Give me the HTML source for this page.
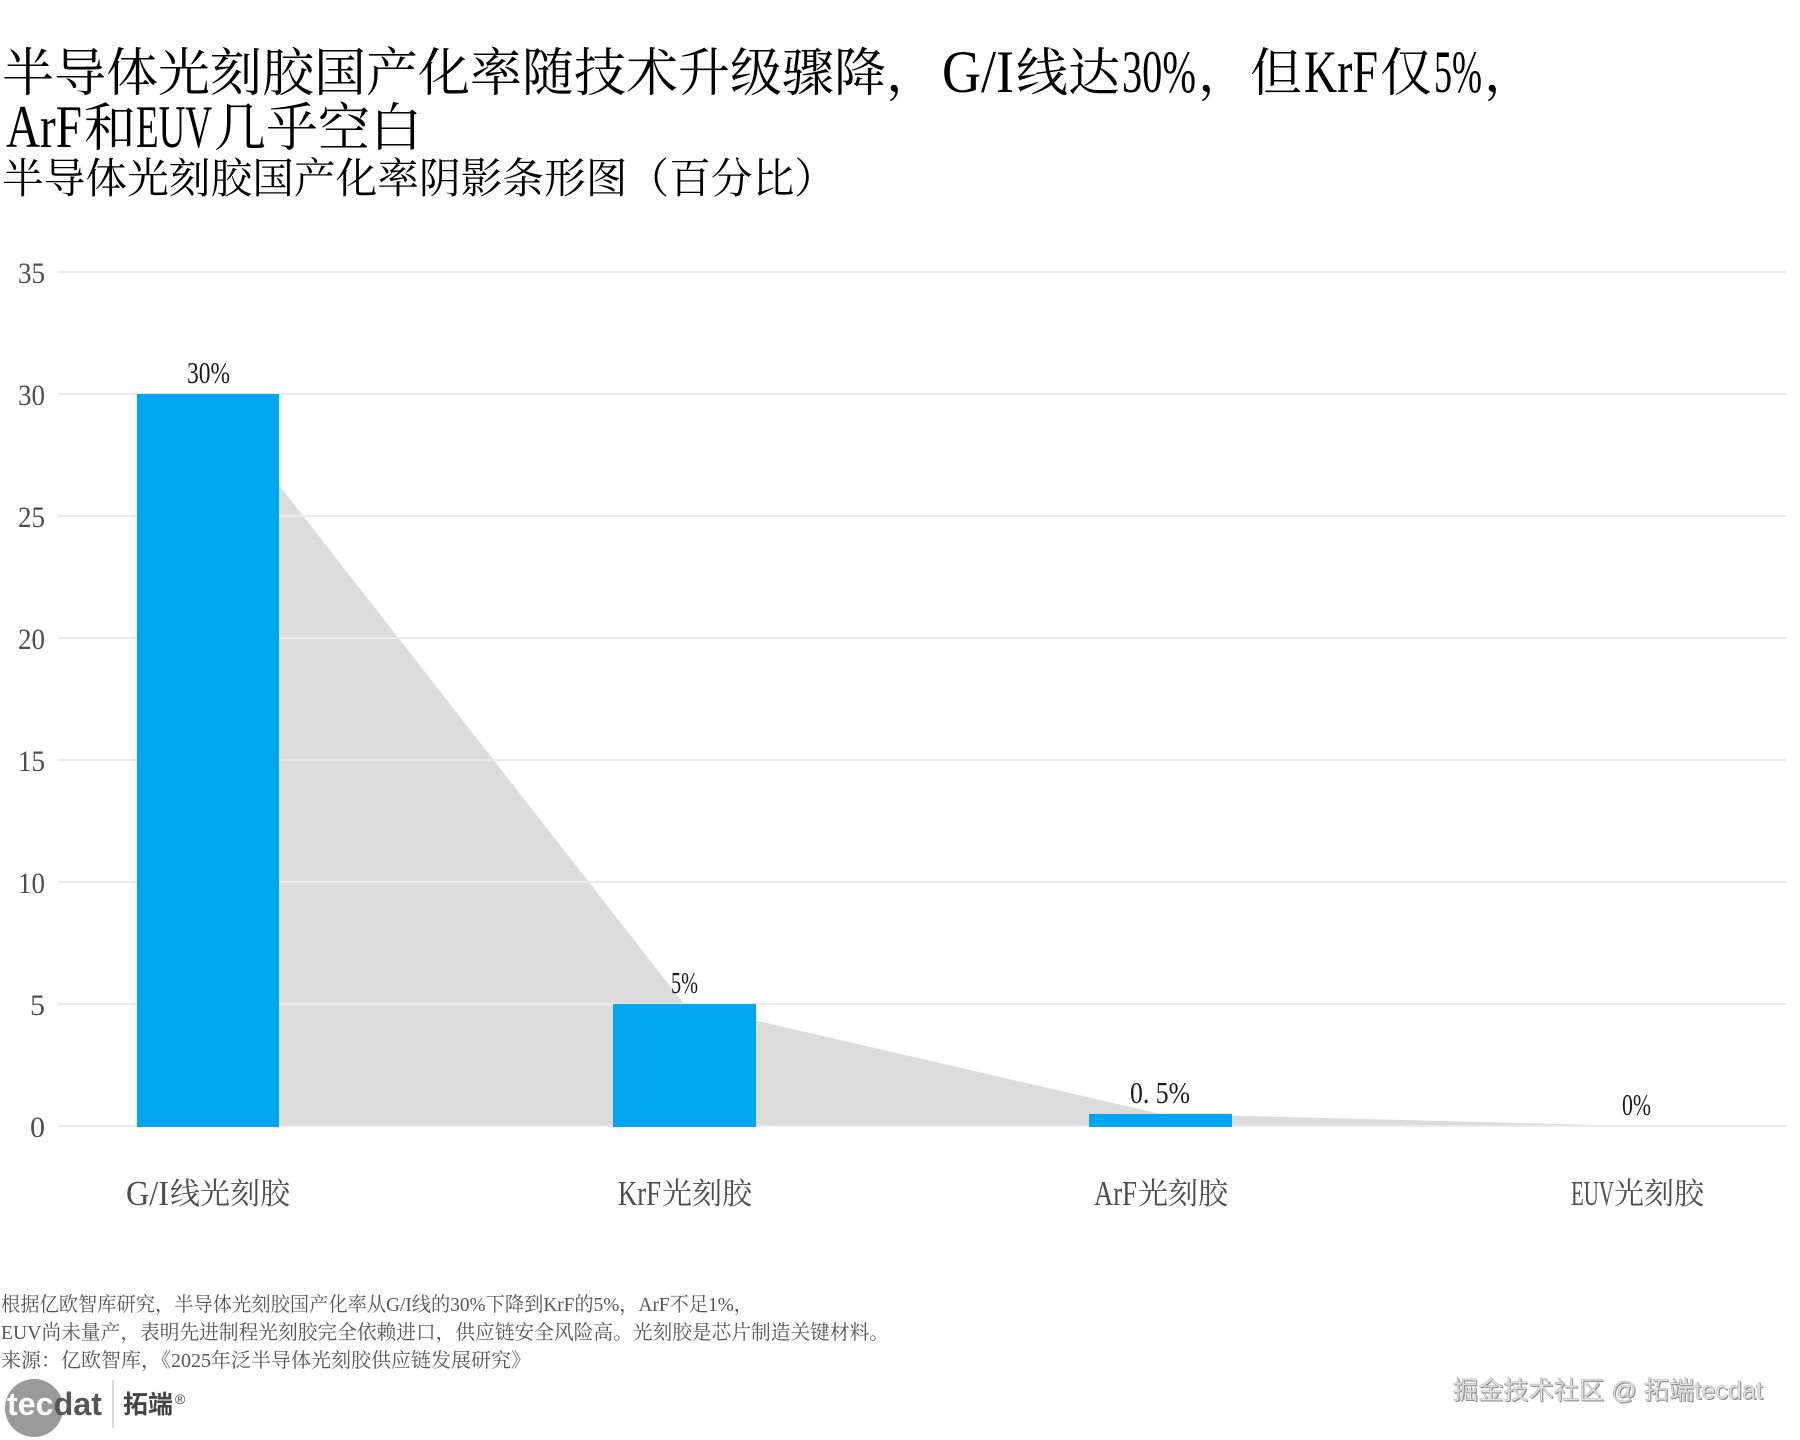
<!DOCTYPE html>
<html>
<head>
<meta charset="utf-8">
<style>
  html, body { margin: 0; padding: 0; background: #ffffff; }
  svg { display: block; }
  .sf { font-family: "Liberation Serif", "Noto Serif CJK SC", "Noto Serif SC", "Source Han Serif SC", "AR PL UMing CN", serif; }
</style>
</head>
<body>
<svg width="1800" height="1440" viewBox="0 0 1800 1440" xmlns="http://www.w3.org/2000/svg">
  <rect x="0" y="0" width="1800" height="1440" fill="#ffffff"/>

  <!-- Titles -->
  <g class="sf" fill="#000000">
    <!-- line 1 -->
    <text x="2" y="91" font-size="52" textLength="936" lengthAdjust="spacingAndGlyphs">半导体光刻胶国产化率随技术升级骤降，</text>
    <text x="942" y="92" font-size="60" textLength="72" lengthAdjust="spacingAndGlyphs">G/I</text>
    <text x="1016" y="91" font-size="52" textLength="104" lengthAdjust="spacingAndGlyphs">线达</text>
    <text x="1122" y="92" font-size="60" textLength="74" lengthAdjust="spacingAndGlyphs">30%</text>
    <text x="1198" y="91" font-size="52" textLength="104" lengthAdjust="spacingAndGlyphs">，但</text>
    <text x="1304" y="92" font-size="60" textLength="74" lengthAdjust="spacingAndGlyphs">KrF</text>
    <text x="1380" y="91" font-size="52">仅</text>
    <text x="1434" y="92" font-size="60" textLength="48" lengthAdjust="spacingAndGlyphs">5%</text>
    <text x="1484" y="91" font-size="52">，</text>
    <!-- line 2 -->
    <text x="6" y="147" font-size="60" textLength="76" lengthAdjust="spacingAndGlyphs">ArF</text>
    <text x="84" y="146" font-size="52">和</text>
    <text x="136" y="147" font-size="60" textLength="76" lengthAdjust="spacingAndGlyphs">EUV</text>
    <text x="214" y="146" font-size="52" textLength="208" lengthAdjust="spacingAndGlyphs">几乎空白</text>
    <!-- subtitle -->
    <text x="2" y="193" font-size="42" textLength="834" lengthAdjust="spacingAndGlyphs">半导体光刻胶国产化率阴影条形图（百分比）</text>
  </g>

  <!-- Shadow polygon -->
  <polygon points="208,394 684,1004 1160,1113.8 1635,1126 208,1126" fill="#dcdcdc"/>

  <!-- Grid lines -->
  <g stroke="#ebebeb" stroke-width="2">
    <line x1="58" y1="272" x2="1786" y2="272"/>
    <line x1="58" y1="394" x2="1786" y2="394"/>
    <line x1="58" y1="516" x2="1786" y2="516"/>
    <line x1="58" y1="638" x2="1786" y2="638"/>
    <line x1="58" y1="760" x2="1786" y2="760"/>
    <line x1="58" y1="882" x2="1786" y2="882"/>
    <line x1="58" y1="1004" x2="1786" y2="1004"/>
    <line x1="58" y1="1126" x2="1786" y2="1126"/>
  </g>

  <!-- Y tick labels -->
  <g class="sf" font-size="30" fill="#4d4d4d" text-anchor="end">
    <text x="45" y="283" textLength="27" lengthAdjust="spacingAndGlyphs">35</text>
    <text x="45" y="405" textLength="27" lengthAdjust="spacingAndGlyphs">30</text>
    <text x="45" y="527" textLength="27" lengthAdjust="spacingAndGlyphs">25</text>
    <text x="45" y="649" textLength="27" lengthAdjust="spacingAndGlyphs">20</text>
    <text x="45" y="771" textLength="27" lengthAdjust="spacingAndGlyphs">15</text>
    <text x="45" y="893" textLength="27" lengthAdjust="spacingAndGlyphs">10</text>
    <text x="45" y="1015">5</text>
    <text x="45" y="1137">0</text>
  </g>

  <!-- Bars -->
  <g fill="#00a6f0">
    <rect x="137" y="394" width="142" height="733"/>
    <rect x="613" y="1004" width="143" height="123"/>
    <rect x="1089" y="1114" width="143" height="13"/>
  </g>

  <!-- Bar value labels -->
  <g class="sf" font-size="31" fill="#1a1a1a">
    <text x="187" y="383" textLength="43" lengthAdjust="spacingAndGlyphs">30%</text>
    <text x="671" y="993" textLength="27" lengthAdjust="spacingAndGlyphs">5%</text>
    <text x="1130" y="1103" textLength="60" lengthAdjust="spacingAndGlyphs">0. 5%</text>
    <text x="1622" y="1115" textLength="29" lengthAdjust="spacingAndGlyphs">0%</text>
  </g>

  <!-- X axis labels -->
  <g class="sf" fill="#4d4d4d">
    <text x="126" y="1205" font-size="35" textLength="43" lengthAdjust="spacingAndGlyphs">G/I</text>
    <text x="170" y="1204" font-size="30">线光刻胶</text>
    <text x="618" y="1205" font-size="35" textLength="43" lengthAdjust="spacingAndGlyphs">KrF</text>
    <text x="662" y="1204" font-size="30">光刻胶</text>
    <text x="1094" y="1205" font-size="35" textLength="43" lengthAdjust="spacingAndGlyphs">ArF</text>
    <text x="1138" y="1204" font-size="30">光刻胶</text>
    <text x="1571" y="1205" font-size="35" textLength="43" lengthAdjust="spacingAndGlyphs">EUV</text>
    <text x="1614" y="1204" font-size="30">光刻胶</text>
  </g>

  <!-- Footnotes -->
  <g class="sf" font-size="20" fill="#555555">
    <text x="1" y="1311" textLength="752" lengthAdjust="spacingAndGlyphs">根据亿欧智库研究，半导体光刻胶国产化率从G/I线的30%下降到KrF的5%，ArF不足1%，</text>
    <text x="1" y="1339" textLength="888" lengthAdjust="spacingAndGlyphs">EUV尚未量产，表明先进制程光刻胶完全依赖进口，供应链安全风险高。光刻胶是芯片制造关键材料。</text>
    <text x="1" y="1367" textLength="530" lengthAdjust="spacingAndGlyphs">来源：亿欧智库，《2025年泛半导体光刻胶供应链发展研究》</text>
  </g>

  <!-- Logo -->
  <circle cx="34" cy="1408" r="29" fill="#9a9a9a"/>
  <circle cx="75" cy="1405" r="16" fill="#ffffff"/>
  <text x="7" y="1415" font-family="'Liberation Sans','DejaVu Sans',sans-serif" font-size="32" font-weight="bold" textLength="95" lengthAdjust="spacingAndGlyphs"><tspan fill="#ffffff">tec</tspan><tspan fill="#555555">dat</tspan></text>
  <line x1="113" y1="1380" x2="113" y2="1428" stroke="#cccccc" stroke-width="1.5"/>
  <text x="123" y="1413" font-family="'Liberation Sans','Noto Sans CJK SC',sans-serif" font-size="25" font-weight="bold" fill="#444444" textLength="50" lengthAdjust="spacingAndGlyphs">拓端</text>
  <text x="175" y="1404" font-family="'Liberation Sans',sans-serif" font-size="14" fill="#444444">®</text>

  <!-- Watermark -->
  <g font-family="'Liberation Sans','Noto Sans CJK SC',sans-serif" font-size="25">
    <text x="1454" y="1400" fill="#8a8a8a" textLength="310" lengthAdjust="spacingAndGlyphs">掘金技术社区 @ 拓端tecdat</text>
    <text x="1453" y="1399" fill="#e6e6e6" stroke="#a8a8a8" stroke-width="0.5" textLength="310" lengthAdjust="spacingAndGlyphs">掘金技术社区 @ 拓端tecdat</text>
  </g>
</svg>
</body>
</html>
